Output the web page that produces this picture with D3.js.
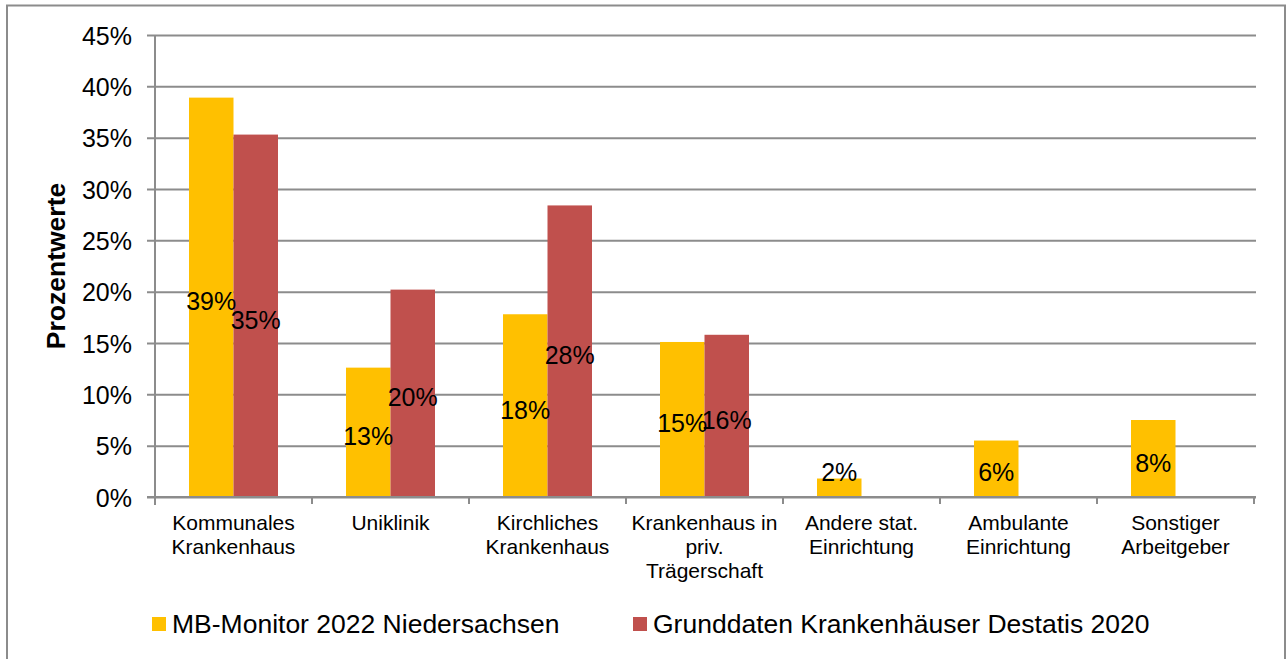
<!DOCTYPE html>
<html>
<head>
<meta charset="utf-8">
<script src="https://cdn.jsdelivr.net/npm/d3@7"></script>
<style>
  body { margin: 0; background: #fff; }
  svg text { font-family: "Liberation Sans", Arial, sans-serif; fill: #000; }
</style>
</head>
<body>
<div id="chart"></div>
<script>
// data
const categories = ['Kommunales\nKrankenhaus', 'Uniklinik', 'Kirchliches\nKrankenhaus',
  'Krankenhaus in\npriv.\nTrägerschaft', 'Andere stat.\nEinrichtung', 'Ambulante\nEinrichtung',
  'Sonstiger\nArbeitgeber'];
const seriesNames = ['MB-Monitor 2022 Niedersachsen', 'Grunddaten Krankenhäuser Destatis 2020'];
const mbMonitor = [38.9, 12.6, 17.8, 15.1, 1.8, 5.5, 7.5];
const destatis = [35.3, 20.2, 28.4, 15.8, null, null, null];
const yTicks = [0, 5, 10, 15, 20, 25, 30, 35, 40, 45];
const colors = ['#FFC000', '#C0504D'];

const width = 1288, height = 659;
const margin = {left: 155, right: 34, top: 35, bottom: 162};
const gridColor = '#8c8c8c';

const svg = d3.select('#chart').append('svg')
  .attr('width', width)
  .attr('height', height);

// outer frame
svg.append('rect')
  .attr('x', 7).attr('y', 5.5)
  .attr('width', 1278).attr('height', 670)
  .attr('fill', 'none')
  .attr('stroke', '#8c8c8c')
  .attr('stroke-width', 2);

const x0 = d3.scaleBand()
  .domain(d3.range(categories.length))
  .range([margin.left, width - margin.right])
  .paddingInner(0).paddingOuter(0);

const x1 = d3.scaleBand()
  .domain([0, 1])
  .range([0, x0.bandwidth()])
  .paddingInner(0).paddingOuter(0.764);

const y = d3.scaleLinear()
  .domain([0, 45])
  .range([height - margin.bottom, margin.top]);

// grid + y labels
const yAxis = d3.axisLeft(y)
  .tickValues(yTicks)
  .tickSize(-(width - margin.right - margin.left + 10))
  .tickFormat(d => d + '%');

const gy = svg.append('g')
  .attr('transform', `translate(${margin.left - 8},0)`)
  .call(yAxis);
gy.select('.domain').remove();
gy.selectAll('.tick line')
  .attr('x1', 0)
  .attr('x2', width - margin.right - margin.left + 10)
  .attr('stroke', gridColor)
  .attr('stroke-width', 2);
gy.selectAll('.tick text')
  .attr('x', -15)
  .attr('dy', '0.36em')
  .style('font-size', '25px');

// vertical axis line
svg.append('line')
  .attr('x1', margin.left).attr('x2', margin.left)
  .attr('y1', y(45)).attr('y2', y(0) + 8)
  .attr('stroke', gridColor).attr('stroke-width', 2);

// bars
const series = [mbMonitor, destatis];
series.forEach((vals, s) => {
  svg.append('g').selectAll('rect')
    .data(vals.map((v, i) => ({v, i})).filter(d => d.v != null))
    .enter().append('rect')
    .attr('x', d => x0(d.i) + x1(s))
    .attr('y', d => y(d.v))
    .attr('width', x1.bandwidth())
    .attr('height', d => y(0) - y(d.v))
    .attr('fill', colors[s]);
});

// x axis line + ticks
svg.append('line')
  .attr('x1', margin.left - 8).attr('x2', width - margin.right + 2)
  .attr('y1', y(0)).attr('y2', y(0))
  .attr('stroke', gridColor).attr('stroke-width', 2);
svg.append('g').selectAll('line')
  .data(d3.range(categories.length + 1))
  .enter().append('line')
  .attr('x1', d => margin.left + d * x0.step())
  .attr('x2', d => margin.left + d * x0.step())
  .attr('y1', y(0)).attr('y2', y(0) + 7)
  .attr('stroke', gridColor).attr('stroke-width', 2);

// data labels
series.forEach((vals, s) => {
  svg.append('g').selectAll('text')
    .data(vals.map((v, i) => ({v, i})).filter(d => d.v != null))
    .enter().append('text')
    .attr('x', d => x0(d.i) + x1(s) + x1.bandwidth() / 2)
    .attr('y', d => Math.min((y(d.v) + y(0)) / 2 + 4, y(0) - 25))
    .attr('dy', '0.36em')
    .attr('text-anchor', 'middle')
    .style('font-size', '25px')
    .text(d => Math.round(d.v) + '%');
});

// category labels
const cat = svg.append('g').selectAll('text')
  .data(categories)
  .enter().append('text')
  .attr('text-anchor', 'middle')
  .style('font-size', '21px');
cat.each(function(d, i) {
  const t = d3.select(this);
  d.split('\n').forEach((line, j) => {
    t.append('tspan')
      .attr('x', x0(i) + x0.bandwidth() / 2)
      .attr('y', 530 + j * 24)
      .text(line);
  });
});

// y title
svg.append('text')
  .attr('transform', `translate(65,${(y(0) + y(45)) / 2}) rotate(-90)`)
  .attr('text-anchor', 'middle')
  .style('font-size', '26.5px')
  .style('font-weight', 'bold')
  .text('Prozentwerte');

// legend
const legendX = [152, 633];
seriesNames.forEach((name, s) => {
  const g = svg.append('g').attr('transform', `translate(${legendX[s]},617)`);
  g.append('rect').attr('width', 14).attr('height', 14).attr('fill', colors[s]);
  g.append('text')
    .attr('x', 20).attr('y', 16)
    .style('font-size', '26.5px')
    .text(name);
});
</script>
</body>
</html>
